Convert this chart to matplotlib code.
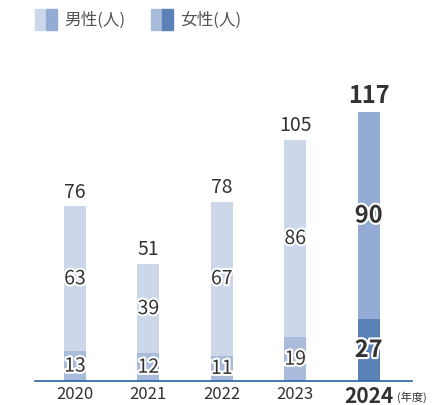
import matplotlib.pyplot as plt
import matplotlib.patheffects as pe
from matplotlib.patches import Rectangle

plt.rcParams['font.family'] = ['Noto Sans CJK JP', 'DejaVu Sans']

years = ['2020', '2021', '2022', '2023', '2024']
women = [13, 12, 11, 19, 27]
men = [63, 39, 67, 86, 90]
totals = [w + m for w, m in zip(women, men)]

men_col = ['#ccd8ea'] * 4 + ['#94abd3']
women_col = ['#a9bcdc'] * 4 + ['#5a82b7']
txt = '#333333'
stroke = [pe.withStroke(linewidth=3, foreground='white')]

fig = plt.figure(figsize=(4.38, 4.06), dpi=100)
ax = fig.add_axes([0.08, 0.059, 0.86, 0.842])

x = range(len(years))
ax.bar(x, women, width=0.3, color=women_col)
ax.bar(x, men, width=0.3, bottom=women, color=men_col)

for i in x:
    last = i == len(years) - 1
    fs = 17 if last else 14
    fw = 'bold' if last else 'normal'
    ax.text(i, women[i] / 2, str(women[i]), ha='center', va='center',
            fontsize=fs, fontweight=fw, color=txt, path_effects=stroke)
    ax.text(i, women[i] + men[i] / 2, str(men[i]), ha='center', va='center',
            fontsize=fs, fontweight=fw, color=txt, path_effects=stroke)
    ax.text(i, totals[i] + 2.0, str(totals[i]), ha='center', va='bottom',
            fontsize=fs, fontweight=fw, color=txt)

ax.set_xlim(-0.544, 4.586)
ax.set_ylim(0, 148.7)
ax.set_xticks(list(x))
ax.set_xticklabels(years)
for i, lbl in enumerate(ax.get_xticklabels()):
    lbl.set_color(txt)
    if i == len(years) - 1:
        lbl.set_fontsize(15)
        lbl.set_fontweight('bold')
    else:
        lbl.set_fontsize(12)
ax.tick_params(axis='x', length=0, pad=3)
ax.set_yticks([])
for s in ['top', 'right', 'left']:
    ax.spines[s].set_visible(False)
ax.spines['bottom'].set_color('#2563a6')
ax.spines['bottom'].set_linewidth(1.2)

fig.text(397 / 438, 1 - 397 / 406, '(年度)', fontsize=8, color=txt,
         ha='left', va='center')

# legend
def legend_box(x0, c1, c2, label):
    w = 11 / 438
    h = 21 / 406
    y0 = 1 - 31 / 406
    fig.patches.append(Rectangle((x0, y0), w, h, color=c1, transform=fig.transFigure))
    fig.patches.append(Rectangle((x0 + w, y0), w, h, color=c2, transform=fig.transFigure))
    fig.text(x0 + 2 * w + 7 / 438, y0 + h / 2, label, fontsize=12, color='#555555',
             ha='left', va='center')

legend_box(35 / 438, '#ccd8ea', '#94abd3', '男性(人)')
legend_box(151 / 438, '#a9bcdc', '#5a82b7', '女性(人)')

fig.savefig('out.png', dpi=100)
